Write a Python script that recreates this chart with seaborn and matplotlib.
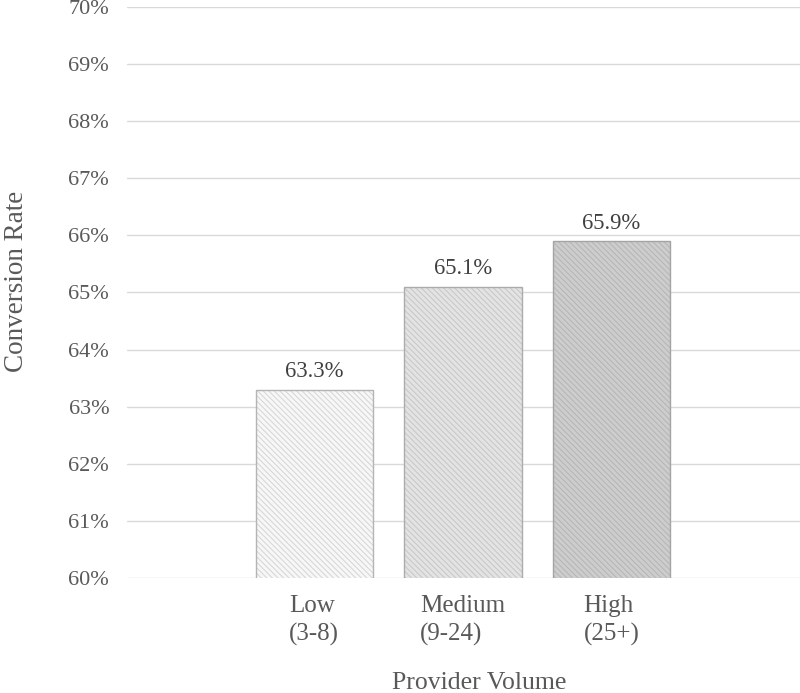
import matplotlib
matplotlib.use("Agg")
import matplotlib.pyplot as plt
import seaborn as sns
import pandas as pd
from matplotlib.colors import to_rgba
from matplotlib.ticker import FuncFormatter

categories = ["Low\n(3-8)", "Medium\n(9-24)", "High\n(25+)"]
rates = [63.3, 65.1, 65.9]
labels = ["63.3%", "65.1%", "65.9%"]
fills = ["#f7f7f7", "#e3e3e3", "#cdcdcd"]
edges = ["#b4b4b4", "#acacac", "#a4a4a4"]
hatches = ["#d4d4d4", "#c6c6c6", "#b4b4b4"]

sns.set_theme(style="white")
plt.rcParams['font.family'] = ['Liberation Serif', 'DejaVu Serif']
plt.rcParams['hatch.linewidth'] = 0.7

df = pd.DataFrame({"cat": categories, "rate": rates})
fig = plt.figure(figsize=(8, 6.93), dpi=100)
ax = fig.add_axes([0.159, 0.166, 0.841, 0.824])
sns.barplot(data=df, x="cat", y="rate", ax=ax, width=0.79, order=categories)

for p, fc, ec, hc in zip(ax.patches, fills, edges, hatches):
    p.set_facecolor(fc)
    p.set_edgecolor(ec)
    p.set_linewidth(1.0)
    p.set_hatch("\\\\\\\\\\\\")
    p._hatch_color = to_rgba(hc)

ax.set_ylim(60, 70)
ax.set_xlim(-1.26, 3.27)
ax.set_yticks(range(60, 71))
ax.yaxis.set_major_formatter(FuncFormatter(lambda v, _: f"{int(v)}%"))
ax.grid(axis="y", color="#d9d9d9", linewidth=1)
ax.set_axisbelow(True)
for s in ax.spines.values():
    s.set_visible(False)
ax.tick_params(axis="both", length=0, colors="#595959")
ax.tick_params(axis="y", pad=13, labelsize=16)
ax.tick_params(axis="x", pad=12, labelsize=18)
for t in ax.get_xticklabels():
    t.set_multialignment("left")
    t.set_linespacing(1.38)

for i, (v, lab) in enumerate(zip(rates, labels)):
    ax.text(i, v + 0.13, lab, ha="center", va="bottom", fontsize=16.3, color="#404040")

ax.set_xlabel("Provider Volume", fontsize=18.5, color="#595959")
ax.set_ylabel("Conversion Rate", fontsize=19.5, color="#595959")
ax.xaxis.set_label_coords(0.523, -0.164)
ax.yaxis.set_label_coords(-0.146, 0.52)

fig.savefig("out.png", dpi=100)
